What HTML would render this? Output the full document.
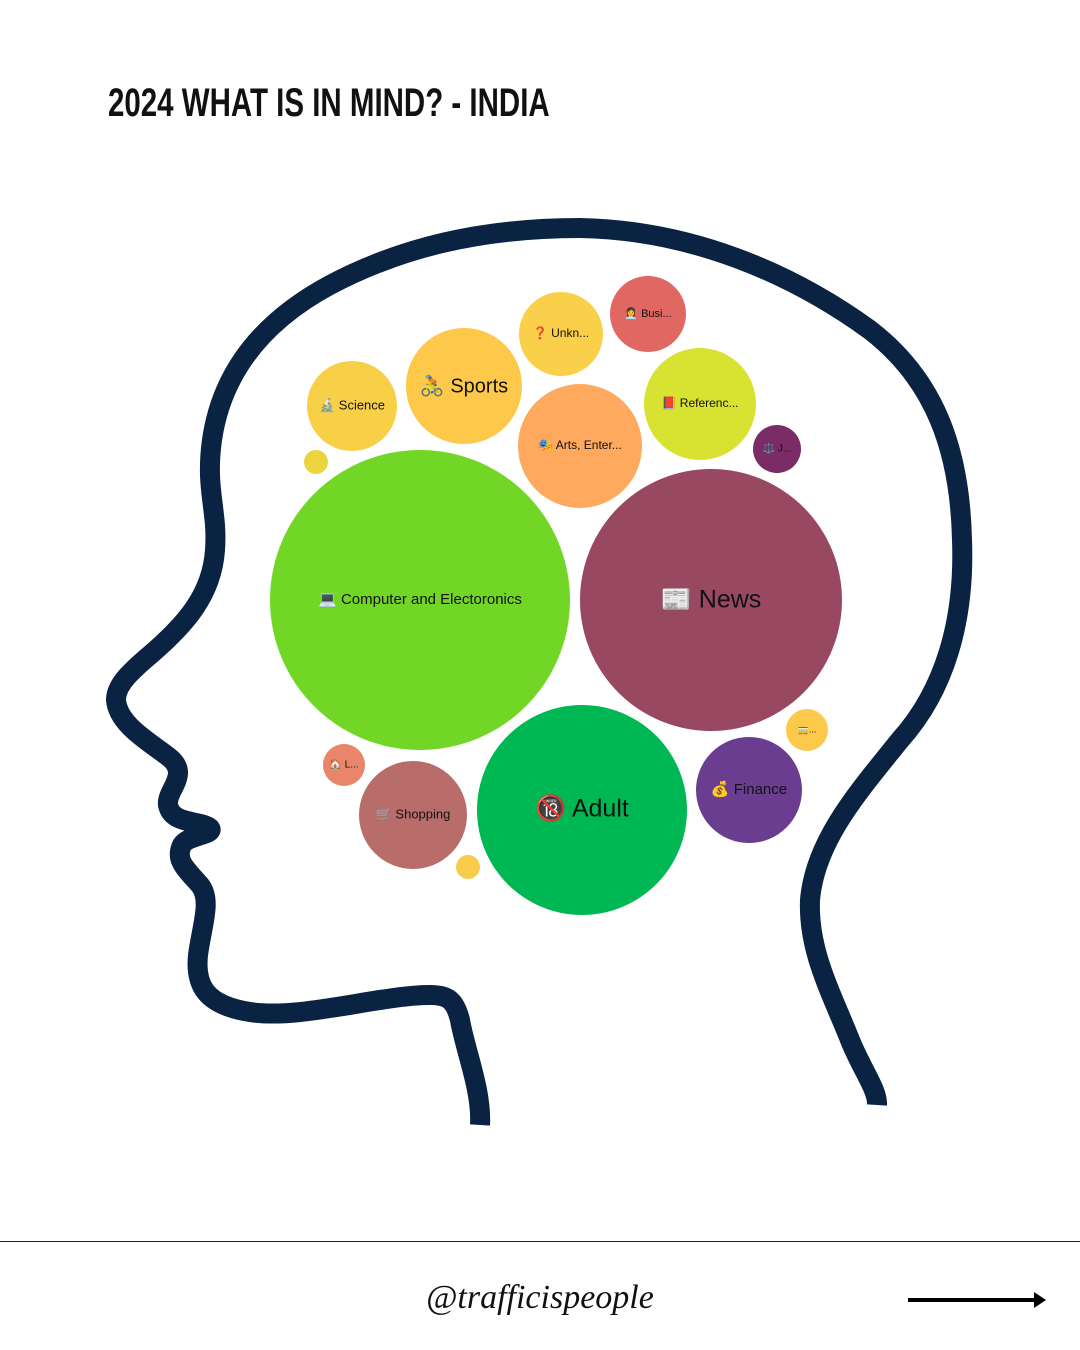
<!DOCTYPE html>
<html><head><meta charset="utf-8">
<style>
html,body{margin:0;padding:0;background:#fff;}
body{width:1080px;height:1350px;position:relative;overflow:hidden;font-family:"Liberation Sans","Noto Sans CJK SC",sans-serif;}
.title{position:absolute;left:108px;top:81px;font-size:40px;font-weight:bold;color:#111;transform:scaleX(0.737);transform-origin:left top;white-space:nowrap;}
.line{position:absolute;left:0;top:1241px;width:1080px;height:1px;background:#222;}
.handle{position:absolute;left:0;width:1080px;top:1279px;text-align:center;font-family:"Liberation Serif",serif;font-style:italic;font-size:34px;color:#111;}
</style></head><body>
<div class="title">2024 WHAT IS IN MIND? - INDIA</div>
<svg width="1080" height="1350" style="position:absolute;left:0;top:0">
<path d="M480,1125 C482,1090 465,1050 460,1020 C455,1000 448,995 430,995 C380,995 300,1020 250,1012 C205,1005 195,985 198,955 C202,925 212,900 200,885 C185,868 175,860 182,845 C188,835 215,835 210,828 C200,820 172,825 168,805 C166,790 190,775 170,758 C150,742 118,725 116,700 C116,685 130,672 150,655 C185,625 212,595 215,550 C218,510 205,490 212,440 C222,370 265,320 330,285 C400,248 480,228 580,228 C690,230 790,272 870,330 C935,380 960,450 962,540 C965,620 945,690 900,740 C860,790 815,840 810,900 C808,950 830,990 850,1040 C862,1070 878,1090 877,1105" fill="none" stroke="#0a2342" stroke-width="20" stroke-linecap="butt" stroke-linejoin="round"/>
<g font-family="Liberation Sans, sans-serif" text-anchor="middle" dominant-baseline="middle" fill="#111">
<circle cx="420" cy="600" r="150" fill="#72d626"/>
<text x="420" y="600" font-size="15">💻 Computer and Electoronics</text>
<circle cx="711" cy="600" r="131" fill="#994862"/>
<text x="711" y="601" font-size="25">📰 News</text>
<circle cx="582" cy="810" r="105" fill="#00b853"/>
<text x="582" y="810" font-size="25">🔞 Adult</text>
<circle cx="749" cy="790" r="53" fill="#6a3d91"/>
<text x="749" y="790" font-size="15">💰 Finance</text>
<circle cx="413" cy="815" r="54" fill="#b96d6b"/>
<text x="413" y="815" font-size="13">🛒 Shopping</text>
<circle cx="344" cy="765" r="21" fill="#e8856a"/>
<text x="344" y="765" font-size="10">🏠 L...</text>
<circle cx="468" cy="867" r="12" fill="#f7cc4a"/>
<circle cx="807" cy="730" r="21" fill="#fdc94a"/>
<text x="807" y="730" font-size="9">🚃...</text>
<circle cx="580" cy="446" r="62" fill="#fea95e"/>
<text x="580" y="446" font-size="12">🎭 Arts, Enter...</text>
<circle cx="464" cy="386" r="58" fill="#fec94b"/>
<text x="464" y="387" font-size="20">🚴 Sports</text>
<circle cx="352" cy="406" r="45" fill="#f8d047"/>
<text x="352" y="406" font-size="13">🔬 Science</text>
<circle cx="316" cy="462" r="12" fill="#ecd43e"/>
<circle cx="561" cy="334" r="42" fill="#fad04a"/>
<text x="561" y="334" font-size="12">❓ Unkn...</text>
<circle cx="648" cy="314" r="38" fill="#e06762"/>
<text x="648" y="314" font-size="11">👩‍💼 Busi...</text>
<circle cx="700" cy="404" r="56" fill="#d8e231"/>
<text x="700" y="404" font-size="12">📕 Referenc...</text>
<circle cx="777" cy="449" r="24" fill="#7b2c66"/>
<text x="777" y="449" font-size="10">⚖️ J...</text>
</g>
<line x1="908" y1="1300" x2="1038" y2="1300" stroke="#000" stroke-width="4"/>
<polygon points="1046,1300 1034,1292 1034,1308" fill="#000"/>
</svg>
<div class="line"></div>
<div class="handle">@trafficispeople</div>
</body></html>
